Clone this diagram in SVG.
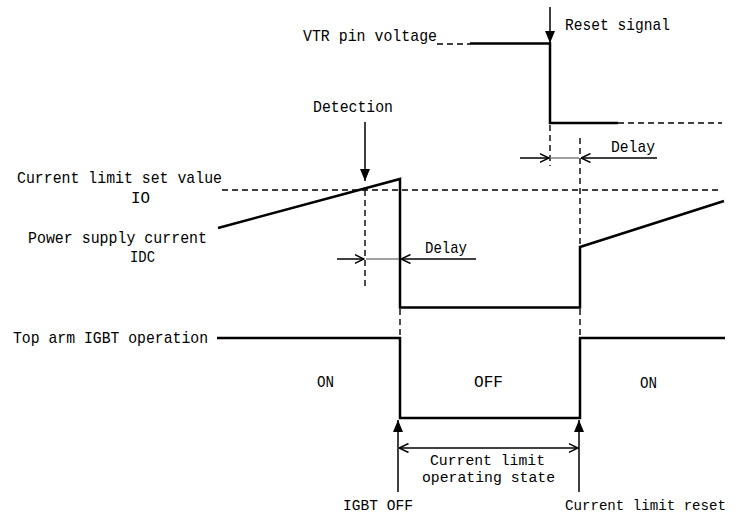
<svg xmlns="http://www.w3.org/2000/svg" width="737" height="519" viewBox="0 0 737 519">
<style>
text{font-family:"Liberation Mono","DejaVu Sans Mono",monospace;font-size:17px;fill:#000}
.sm{font-size:15.5px}
.xs{font-size:14.8px}
.sig{fill:none;stroke:#000;stroke-width:2.5;stroke-linejoin:miter}
.dash{fill:none;stroke:#000;stroke-width:1.4;stroke-dasharray:6,4}
.arr{fill:none;stroke:#000;stroke-width:1.5}
.grey{fill:none;stroke:#808080;stroke-width:1.5}
.fa{marker-end:url(#filled)}
.oa{marker-end:url(#open)}
</style>
<defs>
<marker id="filled" viewBox="0 0 12 10" refX="12" refY="5" markerWidth="12" markerHeight="10" markerUnits="userSpaceOnUse" orient="auto-start-reverse">
<path d="M0,0 L12,5 L0,10 z" fill="#000"/>
</marker>
<marker id="open" viewBox="0 0 10 10" refX="9.5" refY="5" markerWidth="10" markerHeight="10" markerUnits="userSpaceOnUse" orient="auto-start-reverse">
<path d="M0,0.5 L9.5,5 L0,9.5" fill="none" stroke="#000" stroke-width="1.5"/>
</marker>
</defs>

<g id="vtr">
<text x="303" y="41" textLength="134" lengthAdjust="spacingAndGlyphs">VTR pin voltage</text>
<path class="dash" d="M437,44 H470"/>
<path class="sig" d="M470,43.5 H550 V123 H618"/>
<path class="dash" d="M618,123 H722"/>
</g>

<g id="reset-signal">
<text x="565" y="30" textLength="105" lengthAdjust="spacingAndGlyphs">Reset signal</text>
<path class="arr fa" d="M550,7 V43"/>
</g>

<g id="delay-top">
<path class="dash" d="M550,125 V166"/>
<path class="dash" d="M580,138 V247"/>
<path class="arr oa" d="M520,158 H549"/>
<path class="grey" d="M550,158 H579"/>
<path class="arr oa" d="M657,158 H581"/>
<text x="611" y="152" textLength="44" lengthAdjust="spacingAndGlyphs">Delay</text>
</g>

<g id="current">
<text x="17" y="183" textLength="205" lengthAdjust="spacingAndGlyphs">Current limit set value</text>
<text x="131" y="203" textLength="19" lengthAdjust="spacingAndGlyphs">IO</text>
<text x="28" y="243" textLength="179" lengthAdjust="spacingAndGlyphs">Power supply current</text>
<text x="130" y="262" textLength="25" lengthAdjust="spacingAndGlyphs">IDC</text>
<path class="dash" d="M222,190 H722"/>
<path class="sig" d="M218,228 L400,179 V307.5 H580 V247 L724,201"/>
</g>

<g id="detection">
<text x="313" y="112" textLength="80" lengthAdjust="spacingAndGlyphs">Detection</text>
<path class="arr fa" d="M365,122 V181"/>
<path class="dash" d="M365,190 V286"/>
</g>

<g id="delay-mid">
<path class="arr oa" d="M337,259 H364"/>
<path class="grey" d="M366,259 H399"/>
<path class="arr oa" d="M476,259 H401"/>
<text x="425" y="253" textLength="42" lengthAdjust="spacingAndGlyphs">Delay</text>
</g>

<g id="igbt">
<text x="13" y="343" textLength="195" lengthAdjust="spacingAndGlyphs">Top arm IGBT operation</text>
<path class="sig" d="M217,338 H400 V418 H580 V338 H725"/>
<path class="dash" d="M400,309 V337"/>
<path class="dash" d="M580,309 V337"/>
<text x="317" y="387" textLength="17" lengthAdjust="spacingAndGlyphs">ON</text>
<text x="474" y="387" textLength="29" lengthAdjust="spacingAndGlyphs">OFF</text>
<text x="640" y="388" textLength="17" lengthAdjust="spacingAndGlyphs">ON</text>
</g>

<g id="bottom-arrows">
<path class="arr fa" d="M398,492 V420"/>
<path class="arr fa" d="M579,492 V420"/>
<path class="arr oa" d="M399,448 H578" marker-start="url(#open)"/>
<text class="sm" x="430" y="465" textLength="115" lengthAdjust="spacingAndGlyphs">Current limit</text>
<text class="sm" x="422" y="482" textLength="133" lengthAdjust="spacingAndGlyphs">operating state</text>
<text class="sm" x="343" y="510" textLength="70" lengthAdjust="spacingAndGlyphs">IGBT OFF</text>
<text class="xs" x="565" y="510" textLength="161" lengthAdjust="spacingAndGlyphs">Current limit reset</text>
</g>
</svg>
